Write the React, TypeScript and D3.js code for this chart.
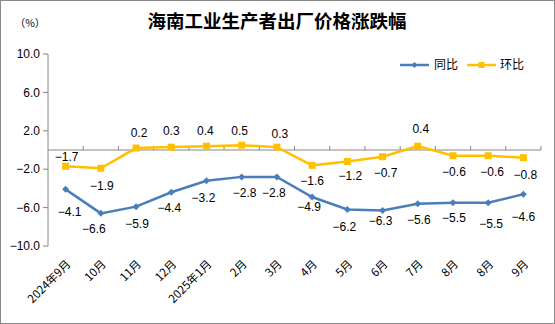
import React from "react";
import * as d3 from "d3";

const categories = ["2024年9月", "10月", "11月", "12月", "2025年1月", "2月", "3月", "4月", "5月", "6月", "7月", "8月", "8月", "9月"];
const yoyValues = [-4.1, -6.6, -5.9, -4.4, -3.2, -2.8, -2.8, -4.9, -6.2, -6.3, -5.6, -5.5, -5.5, -4.6];
const momValues = [-1.7, -1.9, 0.2, 0.3, 0.4, 0.5, 0.3, -1.6, -1.2, -0.7, 0.4, -0.6, -0.6, -0.8];
const yTicks = [-10, -6, -2, 2, 6, 10];
const seriesNames = ["同比", "环比"];

// label offsets (layout only)
const yoyLabelDx = [4, -7, 1, -2, -3, 3, -3, -3, -3, -2, 1, 1, 3, 0];
const yoyLabelDy = [22, 15.5, 17, 15.5, 17, 16, 16, 9.5, 17, 10, 16.5, 15, 21, 23];
const momLabelDx = [1, 1, 3, 0, -1, -2, 3, 0, 3, 3, 3, 1, 4, 2];
const momLabelDy = [-10, 18, -15, -16, -15, -14, -13, 15, 14, 16, -17, 16, 16, 17];

const W = 555;
const H = 324;
const BLUE = "#4A7EBB";
const YELLOW = "#FFC000";
const AXIS = "#868686";
const FONT = "'Liberation Sans', Arial, 'Noto Sans CJK SC', sans-serif";
const CJK = "'Noto Sans CJK SC', 'Liberation Sans', sans-serif";

export default function App() {
  const x = d3.scaleBand<number>().domain(d3.range(categories.length)).range([48, 541]);
  const y = d3.scaleLinear().domain([-10, 10]).range([246, 54]);
  const cx = (i: number) => (x(i) as number) + x.bandwidth() / 2;
  const line = d3
    .line<number>()
    .x((_, i) => cx(i))
    .y((v) => y(v));
  const fmt = d3.format(".1f");
  const y0 = y(0);
  const boundaries = d3.range(1, categories.length + 1).map((i) => 48 + i * x.bandwidth());

  return (
    <svg width={W} height={H} style={{ position: "absolute", left: 0, top: 0, background: "#fff" }}>
      <rect x={0.5} y={0.5} width={W - 1} height={H - 1} fill="#fff" stroke="#898989" />
      <text x={277} y={28} textAnchor="middle" fontFamily={CJK} fontWeight="bold" fontSize={18.5} fill="#000">
        海南工业生产者出厂价格涨跌幅
      </text>
      <text x={30} y={27} textAnchor="middle" fontFamily={CJK} fontSize={10.5} fill="#000">
        （%）
      </text>

      {/* y axis */}
      <line x1={48} x2={48} y1={y(10)} y2={y(-10)} stroke={AXIS} />
      {yTicks.map((t) => (
        <g key={t}>
          <line x1={43} x2={48} y1={y(t)} y2={y(t)} stroke={AXIS} />
          <text x={40} y={y(t)} dy="0.35em" textAnchor="end" fontFamily={FONT} fontSize={12} fill="#000">
            {fmt(t)}
          </text>
        </g>
      ))}

      {/* x axis at zero */}
      <line x1={48} x2={541} y1={y0} y2={y0} stroke={AXIS} />
      {boundaries.map((b, i) => (
        <line key={i} x1={b} x2={b} y1={y0} y2={y0 - 4} stroke={AXIS} />
      ))}
      {categories.map((c, i) => (
        <text
          key={i}
          transform={`translate(${cx(i) + 3},${262}) rotate(-45)`}
          dy="0.35em"
          textAnchor="end"
          fontFamily={CJK}
          fontSize={11.5}
          fill="#000"
        >
          {c}
        </text>
      ))}

      {/* series */}
      <path d={line(yoyValues) || ""} fill="none" stroke={BLUE} strokeWidth={2.5} />
      <path d={line(momValues) || ""} fill="none" stroke={YELLOW} strokeWidth={2.5} />
      {yoyValues.map((v, i) => (
        <path key={i} d="M0,-3.5L3.5,0L0,3.5L-3.5,0Z" transform={`translate(${cx(i)},${y(v)})`} fill={BLUE} />
      ))}
      {momValues.map((v, i) => (
        <rect key={i} x={cx(i) - 3.5} y={y(v) - 3.5} width={7} height={7} fill={YELLOW} />
      ))}

      {yoyValues.map((v, i) => (
        <text key={i} x={cx(i) + yoyLabelDx[i]} y={y(v) + yoyLabelDy[i]} dy="0.35em" textAnchor="middle" fontFamily={FONT} fontSize={12} fill="#000">
          {fmt(v)}
        </text>
      ))}
      {momValues.map((v, i) => (
        <text key={i} x={cx(i) + momLabelDx[i]} y={y(v) + momLabelDy[i]} dy="0.35em" textAnchor="middle" fontFamily={FONT} fontSize={12} fill="#000">
          {fmt(v)}
        </text>
      ))}

      {/* legend */}
      <line x1={400} x2={429} y1={65} y2={65} stroke={BLUE} strokeWidth={2.5} />
      <path d="M0,-3L3,0L0,3L-3,0Z" transform="translate(414.5,65)" fill={BLUE} />
      <text x={434} y={65} dy="0.35em" fontFamily={CJK} fontSize={12} fill="#000">
        {seriesNames[0]}
      </text>
      <line x1={467} x2={496} y1={65} y2={65} stroke={YELLOW} strokeWidth={2.5} />
      <rect x={478.5} y={62} width={6} height={6} fill={YELLOW} />
      <text x={500} y={65} dy="0.35em" fontFamily={CJK} fontSize={12} fill="#000">
        {seriesNames[1]}
      </text>
    </svg>
  );
}
